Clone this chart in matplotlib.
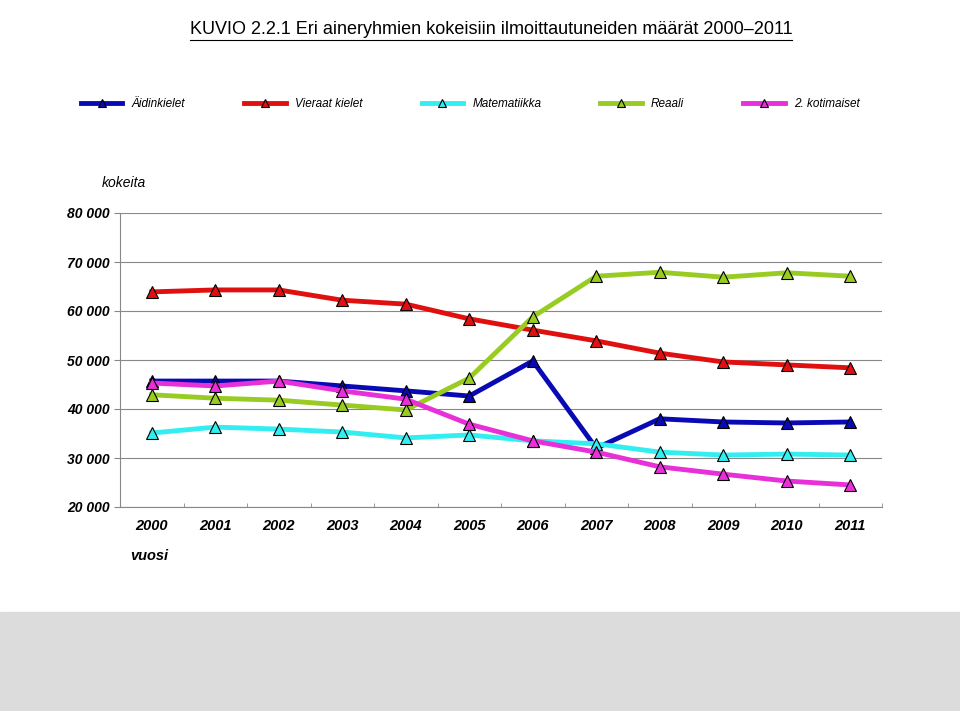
import matplotlib.pyplot as plt
from matplotlib.lines import Line2D
from matplotlib.patches import Rectangle

plt.rcParams['font.family'] = 'Liberation Sans'

years = ['2000', '2001', '2002', '2003', '2004', '2005', '2006', '2007', '2008', '2009', '2010', '2011']
aidinkielet = [45700, 45700, 45700, 44700, 43700, 42650, 49800, 32000, 38000, 37350, 37150, 37350]
vieraat = [63900, 64300, 64300, 62200, 61400, 58400, 56100, 53900, 51400, 49600, 49000, 48400]
matematiikka = [35100, 36300, 35900, 35300, 34100, 34700, 33500, 32900, 31200, 30600, 30800, 30600]
reaali = [42900, 42200, 41800, 40800, 39800, 46300, 58800, 67100, 67900, 66900, 67800, 67100]
kotimaiset = [45300, 44700, 45700, 43700, 42000, 36900, 33500, 31200, 28200, 26700, 25300, 24500]

series = [
    ('Äidinkielet', aidinkielet, '#0a0ab4'),
    ('Vieraat kielet', vieraat, '#e01010'),
    ('Matematiikka', matematiikka, '#33eef0'),
    ('Reaali', reaali, '#99cc22'),
    ('2. kotimaiset', kotimaiset, '#e830d8'),
]

fig = plt.figure(figsize=(9.6, 7.11), dpi=100)
fig.patches.append(Rectangle((0, 0), 1, 99 / 711, transform=fig.transFigure, color='#dcdcdc', zorder=0))
ax = fig.add_axes([120 / 960, 1 - 507 / 711, 762 / 960, 294 / 711])

x = range(len(years))
for name, vals, col in series:
    ax.plot(x, vals, color=col, lw=3.5, marker='^', ms=8, mfc=col, mec='black', mew=0.8, zorder=3)

ax.set_xlim(-0.5, len(years) - 0.5)
ax.set_ylim(20000, 80000)
ax.set_yticks(range(20000, 80001, 10000))
ax.set_yticklabels([f'{v // 1000} 000' for v in range(20000, 80001, 10000)],
                   fontweight='bold', style='italic', fontsize=10)
ax.set_xticks(list(x))
ax.set_xticklabels(years, fontsize=10.5, fontweight='bold', style='italic')
ax.set_xticks([i - 0.5 for i in range(len(years) + 1)], minor=True)
ax.tick_params(axis='x', which='major', length=0, pad=9)
ax.tick_params(axis='x', which='minor', length=3, direction='in', color='#888888')
ax.tick_params(axis='y', length=4, direction='out', color='#888888')
ax.grid(axis='y', color='#888888', lw=0.8)
ax.set_axisbelow(True)
for s in ['top', 'right']:
    ax.spines[s].set_visible(False)
ax.spines['left'].set_color('#888888')
ax.spines['bottom'].set_color('#888888')

fig.text(190 / 960, 1 - 30 / 711, 'KUVIO 2.2.1 Eri aineryhmien kokeisiin ilmoittautuneiden määrät 2000–2011',
         fontsize=13, va='center')
fig.add_artist(Line2D([190 / 960, 792 / 960], [1 - 40 / 711] * 2, color='black', lw=0.8))
fig.text(102 / 960, 1 - 183 / 711, 'kokeita', fontsize=10, style='italic', va='center')
fig.text(130 / 960, 1 - 556 / 711, 'vuosi', fontsize=10.5, style='italic', fontweight='bold', va='center')

handles = [Line2D([], [], color=c, lw=3.5, marker='^', ms=6, mfc=c, mec='black', mew=0.8) for _, _, c in series]
fig.legend(handles, [n for n, _, _ in series], loc='center', bbox_to_anchor=(0.49, 1 - 104 / 711),
           ncol=5, frameon=False, handlelength=3.5, columnspacing=5,
           prop={'size': 8.5, 'style': 'italic'})

fig.savefig('out.png', dpi=100)
